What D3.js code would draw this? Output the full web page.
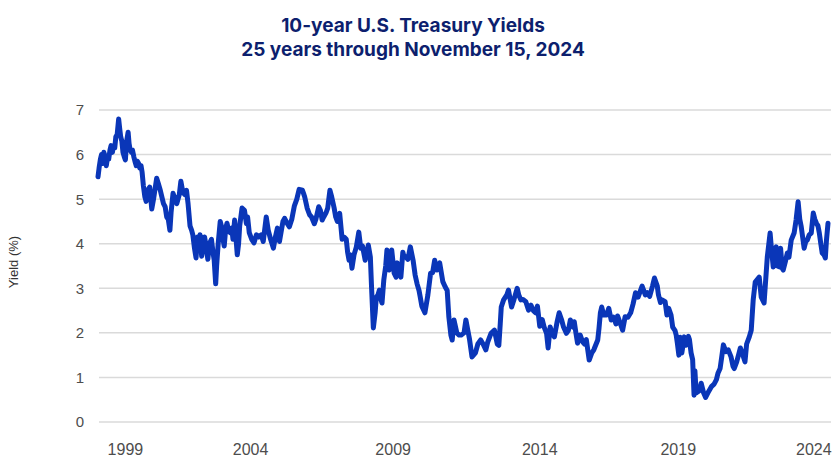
<!DOCTYPE html>
<html>
<head>
<meta charset="utf-8">
<script src="https://cdn.jsdelivr.net/npm/d3@7"></script>
<style>
	html, body { margin: 0; padding: 0; background: #fff; }
	#canvas { width: 840px; height: 472px; }
</style>
</head>
<body>
<div id="canvas"></div>
<script>
const obsDates = [
	'1999-05-01','1999-05-15','1999-06-01','1999-06-15','1999-07-01','1999-07-15','1999-08-01','1999-08-15','1999-09-01','1999-09-15','1999-10-01','1999-10-15','1999-11-01','1999-11-15','1999-12-01','1999-12-15',
	'2000-01-01','2000-01-20','2000-02-01','2000-02-15','2000-03-01','2000-03-15','2000-04-01','2000-04-15','2000-05-01','2000-05-20','2000-06-01','2000-06-15','2000-07-01','2000-07-15','2000-08-01','2000-08-15','2000-09-01','2000-09-15','2000-10-01','2000-10-15','2000-11-01','2000-11-15','2000-12-01','2000-12-20',
	'2001-01-05','2001-01-25','2001-02-20','2001-03-18','2001-04-10','2001-05-20','2001-06-10','2001-07-05','2001-07-25','2001-08-15','2001-09-05','2001-09-25','2001-10-15','2001-11-05','2001-11-20','2001-12-15',
	'2002-01-10','2002-02-01','2002-03-05','2002-03-25','2002-04-20','2002-05-15','2002-06-05','2002-06-25','2002-07-20','2002-08-10','2002-08-25','2002-09-15','2002-10-05','2002-10-25','2002-11-10','2002-11-25','2002-12-16',
	'2003-01-22','2003-02-10','2003-03-05','2003-03-25','2003-04-20','2003-05-10','2003-05-25','2003-06-13','2003-06-25','2003-07-15','2003-08-10','2003-08-25','2003-09-15','2003-09-30','2003-10-20','2003-11-05','2003-11-25','2003-12-15',
	'2004-01-05','2004-01-20','2004-02-10','2004-03-15','2004-04-01','2004-04-15','2004-05-15','2004-06-15','2004-07-10','2004-07-25','2004-08-15','2004-09-15','2004-10-15','2004-11-15','2004-12-15',
	'2005-01-15','2005-02-10','2005-03-20','2005-04-15','2005-05-15','2005-06-20','2005-07-15','2005-08-10','2005-09-05','2005-09-25','2005-10-20','2005-11-10','2005-12-15',
	'2006-01-10','2006-02-10','2006-03-15','2006-04-15','2006-05-15','2006-06-25','2006-07-10','2006-07-25','2006-08-25','2006-09-25','2006-10-20','2006-11-25','2006-12-15',
	'2007-01-20','2007-02-10','2007-03-05','2007-03-25','2007-04-25','2007-05-15','2007-06-12','2007-07-05','2007-08-05','2007-08-25','2007-09-15','2007-10-15','2007-11-15','2007-12-10',
	'2008-01-07','2008-01-25','2008-02-12','2008-03-01','2008-03-20','2008-04-15','2008-05-15','2008-06-15','2008-07-10','2008-08-01','2008-09-05','2008-09-25','2008-10-15','2008-11-10','2008-11-25','2008-12-18',
	'2009-01-10','2009-01-25','2009-02-15','2009-03-05','2009-03-25','2009-04-08','2009-05-01','2009-05-25','2009-06-10','2009-06-25','2009-07-10','2009-08-10','2009-09-10','2009-10-05','2009-10-20','2009-11-15','2009-12-05','2009-12-30',
	'2010-01-15','2010-02-10','2010-03-05','2010-04-05','2010-05-10','2010-06-05','2010-06-30','2010-07-25','2010-08-10','2010-08-30','2010-10-08','2010-11-15','2010-12-20',
	'2011-01-15','2011-02-10','2011-03-10','2011-04-15','2011-05-25','2011-06-25','2011-07-20','2011-08-10','2011-09-05','2011-09-22','2011-10-15','2011-11-20','2011-12-20',
	'2012-01-15','2012-02-20','2012-03-15','2012-04-15','2012-05-01','2012-06-01','2012-07-15','2012-08-15','2012-09-20','2012-10-20','2012-11-25','2012-12-20',
	'2013-01-30','2013-03-15','2013-04-20','2013-05-10','2013-05-28','2013-06-10','2013-07-10','2013-08-20','2013-09-10','2013-10-20','2013-11-20','2013-12-31',
	'2014-01-20','2014-02-15','2014-03-15','2014-04-20','2014-05-25','2014-06-25','2014-07-25','2014-08-25','2014-09-15','2014-10-01','2014-10-15','2014-11-15','2014-12-10',
	'2015-01-10','2015-01-30','2015-02-25','2015-03-20','2015-04-20','2015-05-25','2015-06-20','2015-07-20','2015-08-15','2015-09-20','2015-10-15','2015-11-10','2015-12-15','2015-12-30',
	'2016-01-20','2016-02-10','2016-03-15','2016-04-15','2016-05-10','2016-06-01','2016-06-25','2016-07-08','2016-08-10','2016-09-05','2016-10-25','2016-11-10','2016-11-28','2016-12-15',
	'2017-01-10','2017-02-15','2017-03-15','2017-04-15','2017-05-15','2017-06-15','2017-07-05','2017-08-01','2017-09-08','2017-10-10','2017-11-15','2017-12-20',
	'2018-01-20','2018-02-20','2018-03-25','2018-05-15','2018-06-25','2018-07-20','2018-08-20','2018-09-25','2018-10-20','2018-11-25','2018-12-10',
	'2019-01-05','2019-01-25','2019-03-05','2019-03-28','2019-04-20','2019-05-20','2019-06-10','2019-07-10','2019-07-25','2019-08-10','2019-08-28','2019-09-15','2019-10-05','2019-11-05','2019-11-25','2019-12-28',
	'2020-01-10','2020-01-31','2020-02-20','2020-03-09','2020-03-20','2020-04-05','2020-05-15','2020-06-08','2020-07-10','2020-08-04','2020-09-10','2020-10-20','2020-11-20','2020-12-20',
	'2021-01-10','2021-02-05','2021-02-25','2021-03-19','2021-04-20','2021-05-20','2021-06-25','2021-07-20','2021-08-05','2021-09-05','2021-09-28','2021-10-22','2021-11-15','2021-12-20',
	'2022-01-10','2022-02-13','2022-03-10','2022-04-04','2022-04-30','2022-06-20','2022-07-16','2022-08-21','2022-10-01','2022-11-06','2022-11-25','2022-12-16',
	'2023-01-05','2023-01-22','2023-02-10','2023-03-03','2023-03-20','2023-04-10','2023-04-23','2023-05-20','2023-06-14','2023-07-05','2023-08-03','2023-09-09','2023-10-04','2023-10-30','2023-11-20','2023-12-09',
	'2024-01-15','2024-02-05','2024-02-24','2024-03-20','2024-04-15','2024-05-11','2024-05-30','2024-06-20','2024-07-10','2024-07-27','2024-08-15','2024-09-02','2024-09-25','2024-10-12','2024-10-25','2024-11-15',
];

const obsYields = [
	5.50,5.70,5.90,6.00,5.80,6.05,5.95,5.75,5.95,5.90,6.10,6.20,6.05,6.20,6.15,6.40,
	6.45,6.80,6.60,6.40,6.30,6.05,5.95,5.88,6.30,6.50,6.25,6.10,6.05,6.10,5.95,5.85,5.75,5.85,5.80,5.70,5.75,5.60,5.30,5.05,
	4.95,5.20,5.27,4.78,5.00,5.47,5.35,5.20,5.05,4.90,4.83,4.60,4.55,4.30,4.70,5.13,
	5.00,4.90,5.10,5.40,5.15,5.10,5.20,4.90,4.40,4.30,4.20,3.90,3.68,4.15,3.95,4.20,3.72,
	4.15,3.95,3.65,4.00,4.10,3.80,3.63,3.10,3.50,4.00,4.50,4.40,4.10,3.95,4.35,4.46,4.30,4.25,
	4.35,4.10,4.53,3.75,4.00,4.40,4.80,4.75,4.45,4.60,4.25,4.10,4.02,4.20,4.15,
	4.20,4.05,4.60,4.30,4.10,3.90,4.15,4.35,4.05,4.25,4.50,4.57,4.45,
	4.38,4.55,4.85,5.00,5.22,5.20,5.13,5.05,4.80,4.65,4.60,4.45,4.55,
	4.83,4.75,4.53,4.60,4.70,4.80,5.20,5.05,4.80,4.60,4.50,4.68,4.10,4.15,
	4.10,3.80,3.63,3.75,3.45,3.75,3.93,4.26,3.90,3.95,3.63,3.80,3.97,3.70,3.03,2.11,
	2.45,2.80,2.85,2.96,2.75,2.67,3.19,3.50,3.86,3.50,3.41,3.86,3.34,3.25,3.57,3.40,3.25,3.81,
	3.70,3.70,3.65,3.93,3.63,3.30,3.10,2.95,2.80,2.60,2.45,2.85,3.34,
	3.35,3.63,3.41,3.57,3.15,3.03,2.95,2.36,1.95,1.84,2.29,2.00,1.95,
	1.95,2.00,2.29,2.00,1.85,1.46,1.55,1.75,1.84,1.75,1.62,1.80,
	1.99,2.06,1.75,1.72,2.20,2.58,2.74,2.85,2.96,2.58,2.75,3.00,
	2.85,2.74,2.75,2.70,2.51,2.62,2.50,2.45,2.60,2.36,2.15,2.30,2.13,
	1.99,1.66,2.13,2.00,1.91,2.25,2.45,2.30,2.13,1.99,2.05,2.29,2.13,2.25,
	2.00,1.77,1.95,1.80,1.75,1.85,1.55,1.39,1.55,1.62,1.84,2.10,2.45,2.58,
	2.40,2.40,2.55,2.29,2.35,2.20,2.38,2.25,2.06,2.36,2.35,2.45,
	2.65,2.90,2.80,3.05,2.85,2.90,2.82,3.05,3.23,3.05,2.85,
	2.68,2.74,2.70,2.40,2.55,2.40,2.13,2.05,1.95,1.75,1.50,1.90,1.55,1.91,1.72,1.92,
	1.85,1.55,1.40,0.60,1.15,0.65,0.70,0.87,0.65,0.55,0.68,0.80,0.85,0.95,
	1.10,1.20,1.45,1.73,1.58,1.62,1.46,1.25,1.20,1.35,1.50,1.66,1.55,1.35,
	1.75,1.91,2.06,2.74,3.14,3.25,2.80,2.67,3.70,4.24,3.85,3.48,
	3.85,3.93,3.50,3.48,3.90,3.45,3.41,3.60,3.79,3.70,4.08,4.24,4.53,4.94,4.55,4.38,
	3.90,4.05,4.08,4.20,4.24,4.69,4.55,4.46,4.40,4.24,4.00,3.79,3.75,3.68,4.05,4.46,
];

const yTicks = [0, 1, 2, 3, 4, 5, 6, 7];
const xTickLabels = ['1999', '2004', '2009', '2014', '2019', '2024'];
// where the source chart puts each year label along the time axis
const xTickDates = ['2000-04-15', '2004-09-01', '2009-08-28', '2014-10-15', '2019-08-20', '2024-05-18'];
const titleLines = ['10-year U.S. Treasury Yields', '25 years through November 15, 2024'];

const chart = {
	width: 840,
	height: 472,
	margins: { top: 110, bottom: 50, left: 98, right: 10 },
	lineColor: '#0a36b8',
	gridColor: '#dadada',
	textColor: '#4d4d4d',
	titleColor: '#0d1f6e',
};

drawChart();

function drawChart() {
	const { width, height, margins } = chart;
	const parseDate = d3.timeParse('%Y-%m-%d');

	if (obsDates.length !== obsYields.length) {
		console.error('length mismatch', obsDates.length, obsYields.length);
	}
	const n = Math.min(obsDates.length, obsYields.length);
	const data = d3.range(n).map(i => ({ date: parseDate(obsDates[i]), value: obsYields[i] }));

	const svg = d3.select('#canvas').append('svg')
		.attr('width', width)
		.attr('height', height);

	const x = d3.scaleTime()
		.domain([parseDate('1999-05-01'), parseDate('2024-11-15')])
		.range([margins.left, width - margins.right - 2]);

	const y = d3.scaleLinear()
		.domain([0, 7])
		.range([height - margins.bottom, margins.top]);

	// title
	svg.append('g')
		.selectAll('text')
		.data(titleLines)
		.join('text')
		.attr('x', 413)
		.attr('y', (d, i) => 32 + i * 23.5)
		.attr('text-anchor', 'middle')
		.attr('font-family', 'Inter, Roboto, sans-serif')
		.attr('font-weight', 700)
		.attr('font-size', 19)
		.attr('fill', chart.titleColor)
		.text(d => d);

	// gridlines + y labels
	const yAxis = svg.append('g').attr('id', 'yAxis');
	yAxis.selectAll('line')
		.data(yTicks)
		.join('line')
		.attr('x1', margins.left + 1)
		.attr('x2', width - margins.right + 1)
		.attr('y1', d => y(d))
		.attr('y2', d => y(d))
		.attr('stroke', chart.gridColor)
		.attr('stroke-width', 1.5);

	yAxis.selectAll('text')
		.data(yTicks)
		.join('text')
		.attr('x', 80)
		.attr('y', d => y(d))
		.attr('dy', '0.36em')
		.attr('text-anchor', 'middle')
		.attr('font-family', '"Liberation Sans", Arial, sans-serif')
		.attr('font-size', 15)
		.attr('fill', chart.textColor)
		.text(d => d);

	svg.append('text')
		.attr('transform', 'translate(18,262) rotate(-90)')
		.attr('text-anchor', 'middle')
		.attr('font-family', '"Liberation Sans", Arial, sans-serif')
		.attr('font-size', 13)
		.attr('fill', '#333')
		.text('Yield (%)');

	// x labels
	svg.append('g')
		.attr('id', 'xAxis')
		.selectAll('text')
		.data(xTickLabels)
		.join('text')
		.attr('x', (d, i) => x(parseDate(xTickDates[i])))
		.attr('y', 455)
		.attr('text-anchor', 'middle')
		.attr('font-family', '"Liberation Sans", Arial, sans-serif')
		.attr('font-size', 16)
		.attr('fill', chart.textColor)
		.text(d => d);

	// the yield line
	const line = d3.line()
		.x(d => x(d.date))
		.y(d => y(d.value));

	svg.append('path')
		.datum(data)
		.attr('fill', 'none')
		.attr('stroke', chart.lineColor)
		.attr('stroke-width', 5)
		.attr('stroke-linejoin', 'round')
		.attr('stroke-linecap', 'round')
		.attr('d', line);
}
</script>
</body>
</html>
